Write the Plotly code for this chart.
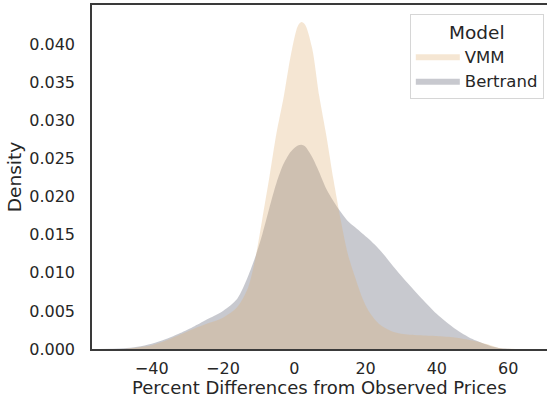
import plotly.graph_objects as go

# Density curves (percent difference -> density)
x_vals = [-56, -48, -44, -40, -36, -32, -28, -24, -20, -16, -13, -11, -9, -7, -5, -3, -1,
          1, 2, 3, 5, 7, 9, 11, 13, 15, 17, 19, 21, 24, 27, 30, 35, 40, 45, 50, 55, 58, 62, 71]

vmm_density = [0.0, 0.0, 0.0002, 0.0005, 0.0011, 0.0019, 0.0027, 0.0034, 0.0041, 0.0055, 0.0080,
               0.0117, 0.0170, 0.0225, 0.0283, 0.0330, 0.0385, 0.0424, 0.0429, 0.0426, 0.0395,
               0.0332, 0.0280, 0.0222, 0.0170, 0.0125, 0.0095, 0.0068, 0.0049, 0.0032, 0.0024,
               0.0020, 0.0018, 0.0017, 0.0015, 0.0011, 0.0005, 0.0001, 0.0, 0.0]

bertrand_density = [0.0, 0.0001, 0.0003, 0.0007, 0.0013, 0.0021, 0.0030, 0.0040, 0.0050, 0.0066,
                    0.0095, 0.0120, 0.0150, 0.0185, 0.0218, 0.0243, 0.0259, 0.0267, 0.0268,
                    0.0266, 0.0252, 0.0232, 0.0210, 0.0194, 0.0180, 0.0168, 0.0160, 0.0152,
                    0.0144, 0.0130, 0.0113, 0.0096, 0.0070, 0.0046, 0.0027, 0.0013, 0.0004,
                    0.0001, 0.0, 0.0]

series_names = ["VMM", "Bertrand"]
x_ticks = [-40, -20, 0, 20, 40, 60]
y_ticks = [0.000, 0.005, 0.010, 0.015, 0.020, 0.025, 0.030, 0.035, 0.040]
x_title = "Percent Differences from Observed Prices"
y_title = "Density"

FONT = "DejaVu Sans"
TXT = "#262626"

fig = go.Figure()
fig.add_trace(go.Scatter(
    x=x_vals, y=bertrand_density, name=series_names[1], mode="lines",
    line=dict(width=0, shape="spline", smoothing=0.8, color="rgba(72,75,95,0.3)"),
    fill="tozeroy", fillcolor="rgba(72,75,95,0.3)", legendrank=2,
))
fig.add_trace(go.Scatter(
    x=x_vals, y=vmm_density, name=series_names[0], mode="lines",
    line=dict(width=0, shape="spline", smoothing=0.8, color="rgba(222,172,108,0.3)"),
    fill="tozeroy", fillcolor="rgba(222,172,108,0.3)", legendrank=1,
))

fig.update_layout(
    width=547, height=399,
    margin=dict(l=92, r=0, t=5, b=50),
    paper_bgcolor="white", plot_bgcolor="white",
    font=dict(family=FONT, size=16, color=TXT),
    legend=dict(
        title=dict(text="Model", side="top center", font=dict(size=18.5, color=TXT)),
        x=0.993, xanchor="right", y=0.974, yanchor="top",
        bordercolor="#d6d6d6", borderwidth=1, bgcolor="rgba(255,255,255,0.8)",
        font=dict(size=16.5, color=TXT), itemwidth=44, tracegroupgap=2,
    ),
    showlegend=True,
    annotations=[dict(
        text=x_title, xref="paper", yref="paper", x=0.5, y=-0.1439,
        xanchor="center", yanchor="bottom", showarrow=False, borderpad=0,
        font=dict(family=FONT, size=18, color=TXT),
    )],
)
fig.update_xaxes(
    range=[-56.75, 70.9], tickvals=x_ticks, showgrid=False, zeroline=False,
    showline=True, linecolor="#3a3a3a", linewidth=1.5, mirror=True,
    ticks="", ticklabelstandoff=4, automargin=False,
)
fig.update_yaxes(
    range=[0, 0.045144], tickvals=y_ticks, tickformat=".3f", showgrid=False, zeroline=False,
    showline=True, linecolor="#3a3a3a", linewidth=1.5, mirror=False,
    ticks="", ticklabelstandoff=12, automargin=False,
    title=dict(text=y_title, standoff=3, font=dict(size=18.5, color=TXT)),
)

fig.write_html("out.html")
